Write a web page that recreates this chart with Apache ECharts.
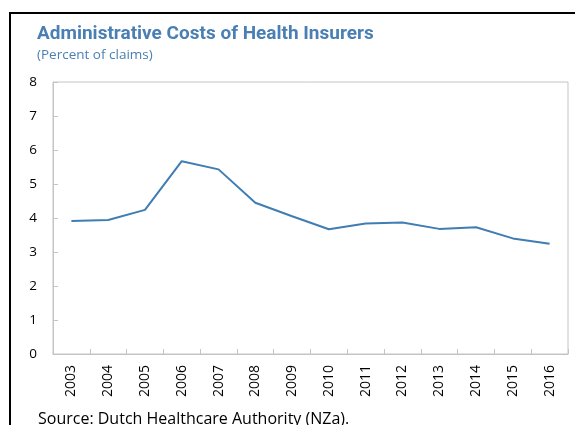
<!DOCTYPE html>
<html>
<head>
<meta charset="utf-8">
<script src="https://cdn.jsdelivr.net/npm/echarts@6/dist/echarts.min.js"></script>
<style>
  html, body { margin: 0; padding: 0; background: #fff; }
  #chart { width: 575px; height: 425px; }
</style>
</head>
<body>
<div id="chart"></div>
<script>
// Administrative costs of Dutch health insurers, percent of claims
const years = ['2003','2004','2005','2006','2007','2008','2009','2010','2011','2012','2013','2014','2015','2016'];
const adminCosts = [3.91, 3.94, 4.24, 5.67, 5.43, 4.45, 4.05, 3.67, 3.84, 3.87, 3.68, 3.73, 3.40, 3.24];
const yTicks = [0, 1, 2, 3, 4, 5, 6, 7, 8];

const FONT = '"Open Sans", "Noto Sans", sans-serif';
const TITLE_FONT = 'Roboto, "Open Sans", sans-serif';
const chart = echarts.init(document.getElementById('chart'), null, { renderer: 'canvas' });

chart.setOption({
  animation: false,
  backgroundColor: '#ffffff',
  title: {
    text: 'Administrative Costs of Health Insurers',
    subtext: '(Percent of claims)',
    left: 32,
    top: 20,
    itemGap: 4,
    textStyle: { fontFamily: TITLE_FONT, fontSize: 19, fontWeight: 'bold', color: '#4a7fb3' },
    subtextStyle: { fontFamily: FONT, fontSize: 13.5, color: '#4a7fb3' }
  },
  grid: { left: 53, right: 7, top: 82, bottom: 71, show: true, borderColor: '#c4c4c4', borderWidth: 1 },
  xAxis: {
    type: 'category',
    data: years,
    boundaryGap: true,
    axisLine: { show: true, lineStyle: { color: '#c4c4c4' } },
    axisTick: { show: true, inside: true, length: 5, lineStyle: { color: '#c4c4c4' } },
    axisLabel: { rotate: 90, fontFamily: FONT, fontSize: 14, color: '#000', margin: 11 }
  },
  yAxis: {
    type: 'value',
    min: yTicks[0],
    max: yTicks[yTicks.length - 1],
    interval: 1,
    axisLine: { show: true, lineStyle: { color: '#c4c4c4' } },
    axisTick: { show: true, inside: true, length: 5, lineStyle: { color: '#c4c4c4' } },
    splitLine: { show: false },
    axisLabel: { fontFamily: FONT, fontSize: 13.5, color: '#000', margin: 16 }
  },
  series: [{
    type: 'line',
    data: adminCosts,
    symbol: 'none',
    lineStyle: { color: '#3f7db3', width: 2 }
  }],
  graphic: [
    {
      type: 'rect',
      shape: { x: 10, y: 13, width: 700, height: 500 },
      style: { fill: 'none', stroke: '#000', lineWidth: 2 },
      silent: true
    },
    {
      type: 'text',
      left: 38,
      top: 411,
      style: { text: 'Source: Dutch Healthcare Authority (NZa).', font: '16px ' + FONT, fill: '#000' }
    }
  ]
});
</script>
</body>
</html>
